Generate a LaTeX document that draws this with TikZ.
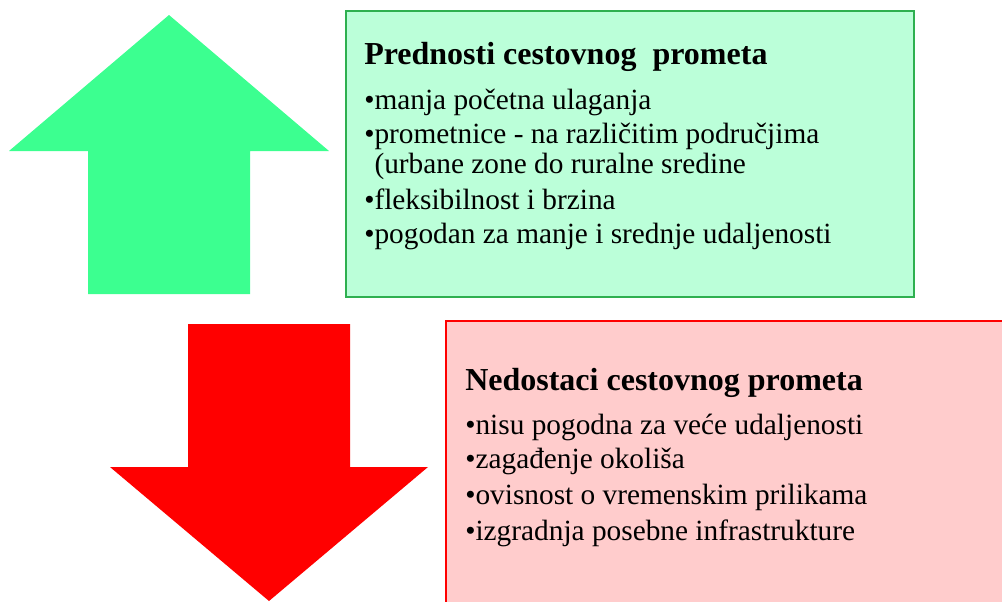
\documentclass[tikz,border=0pt]{standalone}
\usepackage{fontspec}
\setmainfont{Liberation Serif}
\definecolor{arrowgreen}{HTML}{3CFF90}
\definecolor{boxgreen}{HTML}{BBFFD9}
\definecolor{edgegreen}{HTML}{2EB050}
\definecolor{boxred}{HTML}{FFCCCC}

\begin{document}
\begin{tikzpicture}[
  x=0.75pt, y=-0.75pt,
  heading/.style={anchor=base west, inner sep=0pt, font=\fontsize{24}{24}\selectfont\bfseries},
  item/.style={anchor=base west, inner sep=0pt, font=\fontsize{22}{22}\selectfont},
]
  \clip (0,0) rectangle (1002,601);
  \useasboundingbox (0,0) rectangle (1002,601);
  % arrows
  \fill[arrowgreen] (169,15) -- (329,151) -- (250,151) -- (250,294) -- (88,294) -- (88,151) -- (9,151) -- cycle;
  \fill[red] (188,324) -- (350,324) -- (350,467) -- (428,467) -- (269,601) -- (110,467) -- (188,467) -- cycle;
  % boxes
  \draw[edgegreen, fill=boxgreen, line width=1.2pt] (346,11) rectangle (914,297);
  \draw[red, fill=boxred, line width=1.2pt] (446,321) rectangle (1012,612);
  \node[heading] (pro) at (364,64) {Prednosti cestovnog\ \ prometa};
  \foreach \y/\t/\n in {109/{•manja početna ulaganja}/1,
      143/{•prometnice - na različitim područjima}/2,
      173/{\phantom{•}(urbane zone do ruralne sredine}/3,
      209/{•fleksibilnost i brzina}/4,
      243/{•pogodan za manje i srednje udaljenosti}/5}
    \node[item] (pro\n) at (364,\y) {\t};
  \node[heading] (con) at (465,390) {Nedostaci cestovnog prometa};
  \foreach \y/\t/\n in {434/{•nisu pogodna za veće udaljenosti}/1,
      468/{•zagađenje okoliša}/2,
      504/{•ovisnost o vremenskim prilikama}/3,
      540/{•izgradnja posebne infrastrukture}/4}
    \node[item] (con\n) at (465,\y) {\t};
\end{tikzpicture}
\end{document}
